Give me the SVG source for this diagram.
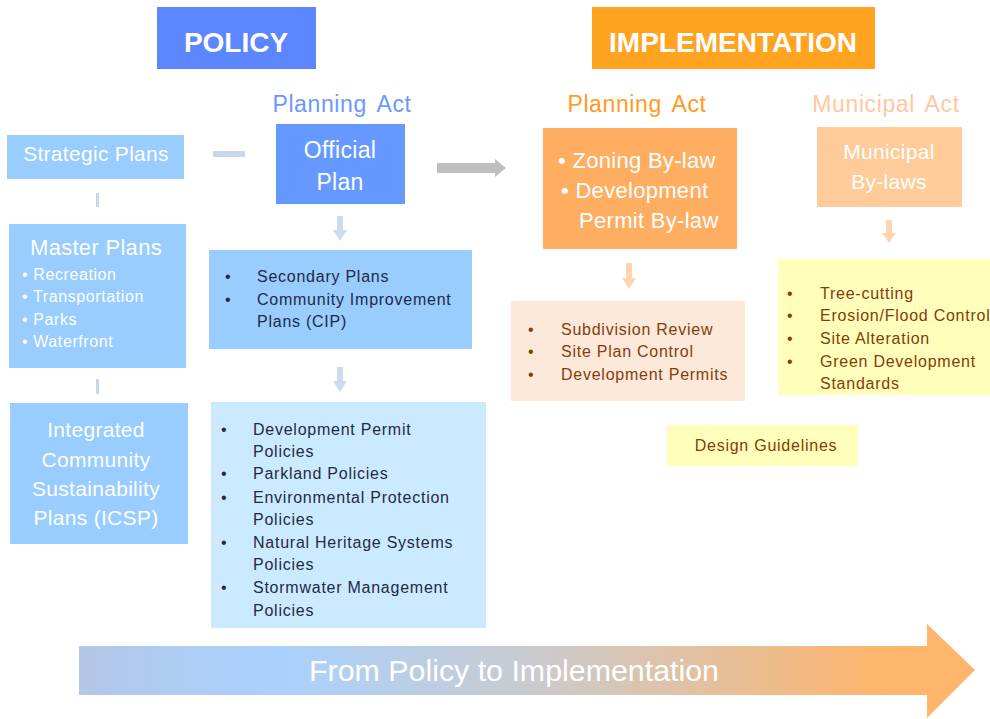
<svg xmlns="http://www.w3.org/2000/svg" width="990" height="719" viewBox="0 0 990 719">
<defs>
<style>
text{font-family:"Liberation Sans","DejaVu Sans",sans-serif}
.hd{font-size:28px;font-weight:bold;fill:#fff}
.lbl{font-size:23px;letter-spacing:0.6px;word-spacing:4px}
.big{font-size:21px;fill:#fff;letter-spacing:0.3px}
.sm{font-size:16px;fill:#fff;letter-spacing:0.6px}
.dk{font-size:16px;fill:#1f2a44;letter-spacing:0.75px}
.br{font-size:16px;fill:#843c0c;letter-spacing:0.75px}
</style>
<linearGradient id="g" x1="79" y1="0" x2="975" y2="0" gradientUnits="userSpaceOnUse">
<stop offset="0" stop-color="#b4c7e7"/>
<stop offset="0.22" stop-color="#a9d1ff"/>
<stop offset="0.5" stop-color="#c9cbd0"/>
<stop offset="0.9" stop-color="#ffb56b"/>
<stop offset="1" stop-color="#ffb56b"/>
</linearGradient>
</defs>
<rect width="990" height="719" fill="#fff"/>

<g id="policy"><rect x="157" y="7" width="159" height="62" fill="#5b86ff"/><text x="236" y="52" text-anchor="middle" class="hd">POLICY</text></g>
<g id="implementation"><rect x="592" y="7" width="283" height="62" fill="#ffa321"/><text x="733" y="52" text-anchor="middle" class="hd">IMPLEMENTATION</text></g>

<g id="lbl-planning-act-policy"><text x="342" y="112" text-anchor="middle" class="lbl" fill="#6b98ff">Planning Act</text></g>
<g id="lbl-planning-act-impl"><text x="637" y="112" text-anchor="middle" class="lbl" fill="#ff9a1f">Planning Act</text></g>
<g id="lbl-municipal-act"><text x="886" y="112" text-anchor="middle" class="lbl" fill="#ffc8a0">Municipal Act</text></g>

<g id="connectors">
<rect x="213" y="151" width="32" height="6" fill="#c8d8ea"/>
<rect x="96" y="193" width="3" height="14" fill="#c8d8ea"/>
<rect x="96" y="379" width="3" height="15" fill="#c8d8ea"/>
<polygon points="437,163 495,163 495,159 506,168 495,177 495,173 437,173" fill="#bfbfbf"/>
<polygon points="337,216 343,216 343,230 347,230 340,241 333,230 337,230" fill="#ccdcee"/>
<polygon points="337,367 343,367 343,381 347,381 340,392 333,381 337,381" fill="#ccdcee"/>
<polygon points="626,263 632,263 632,278 636,278 629,289 622,278 626,278" fill="#ffd5b0"/>
<polygon points="886,220 892,220 892,233 896,233 889,243 882,233 886,233" fill="#ffd5b0"/>
</g>

<g id="strategic-plans"><rect x="7" y="135" width="177" height="44" fill="#99ccff"/><text x="96" y="161" text-anchor="middle" class="big" font-size="20">Strategic Plans</text></g>

<g id="official-plan"><rect x="276" y="124" width="129" height="80" fill="#6699ff"/><text x="340" y="158" text-anchor="middle" class="big" style="font-size:23px">Official</text><text x="340" y="190" text-anchor="middle" class="big" style="font-size:23px">Plan</text></g>

<g id="master-plans"><rect x="9" y="224" width="177" height="144" fill="#99ccff"/>
<text x="96" y="255" text-anchor="middle" class="big" style="font-size:22px">Master Plans</text>
<text x="22" y="280" class="sm">• Recreation</text>
<text x="22" y="302" class="sm">• Transportation</text>
<text x="22" y="325" class="sm">• Parks</text>
<text x="22" y="347" class="sm">• Waterfront</text>
</g>

<g id="icsp"><rect x="10" y="403" width="178" height="141" fill="#99ccff"/>
<text x="96" y="437" text-anchor="middle" class="big">Integrated</text>
<text x="96" y="467" text-anchor="middle" class="big">Community</text>
<text x="96" y="496" text-anchor="middle" class="big">Sustainability</text>
<text x="96" y="525" text-anchor="middle" class="big">Plans (ICSP)</text>
</g>

<g id="secondary-plans"><rect x="209" y="250" width="263" height="99" fill="#99ccff"/>
<text x="225" y="282" class="dk">•</text><text x="257" y="282" class="dk">Secondary Plans</text>
<text x="225" y="305" class="dk">•</text><text x="257" y="305" class="dk">Community Improvement</text>
<text x="257" y="327" class="dk">Plans (CIP)</text>
</g>

<g id="policies"><rect x="211" y="402" width="275" height="226" fill="#cceaff"/>
<text x="221" y="435" class="dk">•</text><text x="253" y="435" class="dk">Development Permit</text>
<text x="253" y="457" class="dk">Policies</text>
<text x="221" y="479" class="dk">•</text><text x="253" y="479" class="dk">Parkland Policies</text>
<text x="221" y="503" class="dk">•</text><text x="253" y="503" class="dk">Environmental Protection</text>
<text x="253" y="525" class="dk">Policies</text>
<text x="221" y="548" class="dk">•</text><text x="253" y="548" class="dk">Natural Heritage Systems</text>
<text x="253" y="570" class="dk">Policies</text>
<text x="221" y="593" class="dk">•</text><text x="253" y="593" class="dk">Stormwater Management</text>
<text x="253" y="616" class="dk">Policies</text>
</g>

<g id="zoning"><rect x="543" y="128" width="194" height="121" fill="#ffad60"/>
<text x="558" y="168" class="big" style="font-size:22px">• Zoning By-law</text>
<text x="561" y="198" class="big" style="font-size:22px">• Development</text>
<text x="579" y="228" class="big" style="font-size:22px">Permit By-law</text>
</g>

<g id="municipal-bylaws"><rect x="817" y="127" width="145" height="80" fill="#ffcc99"/>
<text x="889" y="159" text-anchor="middle" class="big">Municipal</text>
<text x="889" y="189" text-anchor="middle" class="big">By-laws</text>
</g>

<g id="subdivision"><rect x="511" y="301" width="234" height="100" fill="#fde9d9"/>
<text x="528" y="335" class="br">•</text><text x="561" y="335" class="br">Subdivision Review</text>
<text x="528" y="357" class="br">•</text><text x="561" y="357" class="br">Site Plan Control</text>
<text x="528" y="380" class="br">•</text><text x="561" y="380" class="br">Development Permits</text>
</g>

<g id="municipal-items"><rect x="778" y="259" width="212" height="136" fill="#ffffbb"/>
<text x="787" y="299" class="br">•</text><text x="820" y="299" class="br">Tree-cutting</text>
<text x="787" y="321" class="br">•</text><text x="820" y="321" class="br">Erosion/Flood Control</text>
<text x="787" y="344" class="br">•</text><text x="820" y="344" class="br">Site Alteration</text>
<text x="787" y="367" class="br">•</text><text x="820" y="367" class="br">Green Development</text>
<text x="820" y="389" class="br">Standards</text>
</g>

<g id="design-guidelines"><rect x="667" y="425" width="191" height="41" fill="#ffffbb"/>
<text x="766" y="451" text-anchor="middle" class="br">Design Guidelines</text>
</g>

<g id="policy-to-implementation">
<polygon points="79,646 927,646 927,624 975,670 927,718 927,695 79,695" fill="url(#g)"/>
<text x="514" y="681" text-anchor="middle" fill="#fff" font-size="30" textLength="410" lengthAdjust="spacingAndGlyphs" font-family="Roboto,'Liberation Sans',sans-serif">From Policy to Implementation</text>
</g>
</svg>
